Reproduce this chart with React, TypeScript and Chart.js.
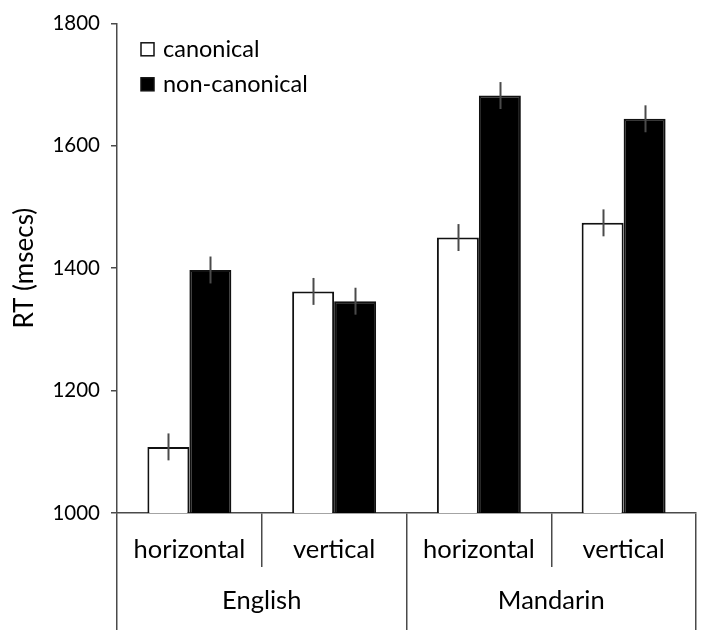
import { useEffect, useRef } from 'react';
import { Chart, registerables } from 'chart.js';

Chart.register(...registerables);

// 데이터
const conditions = ['horizontal', 'vertical', 'horizontal', 'vertical'];
const languages = ['English', 'Mandarin'];
const canonical = [1108, 1362, 1450, 1474];
const nonCanonical = [1397, 1346, 1682, 1644];
const canonicalErr = [22, 22, 22, 22];
const nonCanonicalErr = [22, 22, 22, 22];
const yTicks = [1000, 1200, 1400, 1600, 1800];

const FONT = 'Lato';
const AXIS = '#4a4a4a';
const INK = '#000000';

// 오차 막대 (세로선만)
const errorBars = {
  id: 'errorBars',
  afterDatasetsDraw(chart: any) {
    const { ctx } = chart;
    const y = chart.scales.y;
    ctx.save();
    ctx.strokeStyle = AXIS;
    ctx.lineWidth = 2;
    chart.data.datasets.forEach((ds: any, i: number) => {
      const meta = chart.getDatasetMeta(i);
      meta.data.forEach((bar: any, j: number) => {
        const v = ds.data[j];
        const e = ds.errors[j];
        const x = Math.round(bar.x) + 0.5;
        ctx.beginPath();
        ctx.moveTo(x, y.getPixelForValue(v + e));
        ctx.lineTo(x, y.getPixelForValue(v - e));
        ctx.stroke();
      });
    });
    ctx.restore();
  },
};

// 차트 안쪽 범례
const insideLegend = {
  id: 'insideLegend',
  afterDraw(chart: any) {
    const { ctx, chartArea } = chart;
    ctx.save();
    ctx.font = `23.5px ${FONT}`;
    ctx.textBaseline = 'middle';
    chart.data.datasets.forEach((ds: any, i: number) => {
      const x = chartArea.left + 24;
      const cy = chartArea.top + 26 + i * 35;
      ctx.fillStyle = ds.backgroundColor;
      ctx.fillRect(x, cy - 6.5, 13, 13);
      ctx.strokeStyle = '#111';
      ctx.lineWidth = 1.5;
      ctx.strokeRect(x, cy - 6.5, 13, 13);
      ctx.fillStyle = INK;
      ctx.fillText(ds.label, x + 22, cy);
    });
    ctx.restore();
  },
};

export default function App() {
  const canvasRef = useRef<HTMLCanvasElement>(null);
  const chartRef = useRef<Chart | null>(null);

  useEffect(() => {
    document.body.style.margin = '0';
    if (!canvasRef.current) return;
    if (chartRef.current) chartRef.current.destroy();
    const ctx = canvasRef.current.getContext('2d');
    if (!ctx) return;

    chartRef.current = new Chart(ctx, {
      type: 'bar',
      data: {
        labels: conditions,
        datasets: [
          {
            label: 'canonical',
            data: canonical,
            errors: canonicalErr,
            backgroundColor: '#ffffff',
            borderColor: '#111',
            borderWidth: 2,
          } as any,
          {
            label: 'non-canonical',
            data: nonCanonical,
            errors: nonCanonicalErr,
            backgroundColor: '#000000',
            borderColor: '#111',
            borderWidth: 2,
          } as any,
        ],
      },
      options: {
        animation: false,
        responsive: true,
        maintainAspectRatio: false,
        layout: { padding: { top: 20, right: 22, left: 0, bottom: 0 } },
        datasets: { bar: { categoryPercentage: 0.58, barPercentage: 1.0 } },
        plugins: {
          legend: { display: false },
          tooltip: { enabled: false },
        },
        scales: {
          x: {
            type: 'category',
            offset: true,
            border: { display: true, color: AXIS, width: 1.5 },
            grid: { offset: true, drawOnChartArea: false, drawTicks: true, tickLength: 54, color: AXIS, lineWidth: 1.5 },
            ticks: { color: INK, font: { family: FONT, size: 25.5 }, padding: -33, autoSkip: false, maxRotation: 0 },
            afterFit: (s: any) => { s.height = 54; },
          },
          x2: {
            type: 'category',
            position: 'bottom',
            labels: languages,
            offset: true,
            border: { display: false },
            grid: { offset: true, drawOnChartArea: false, drawTicks: true, tickLength: 63, color: AXIS, lineWidth: 1.5 },
            ticks: { color: INK, font: { family: FONT, size: 25.5 }, padding: -45, autoSkip: false, maxRotation: 0 },
            afterFit: (s: any) => { s.height = 63; },
          },
          y: {
            min: 1000,
            max: 1800,
            afterBuildTicks: (s: any) => { s.ticks = yTicks.map(v => ({ value: v })); },
            border: { display: true, color: AXIS, width: 1.5 },
            grid: { drawOnChartArea: false, drawTicks: true, tickLength: 6, color: AXIS, lineWidth: 1.5 },
            ticks: { color: INK, font: { family: FONT, size: 20.5 }, padding: 11, callback: (v: any) => String(v) },
            title: { display: true, text: 'RT (msecs)', color: INK, font: { family: FONT, size: 26 }, padding: { top: 9, bottom: 0 } },
            afterFit: (s: any) => { s.width = 117; },
          },
        },
      },
      plugins: [errorBars, insideLegend],
    });

    return () => {
      if (chartRef.current) {
        chartRef.current.destroy();
        chartRef.current = null;
      }
    };
  }, []);

  return (
    <div style={{ position: 'relative', width: 718, height: 630 }}>
      <canvas ref={canvasRef} />
    </div>
  );
}
